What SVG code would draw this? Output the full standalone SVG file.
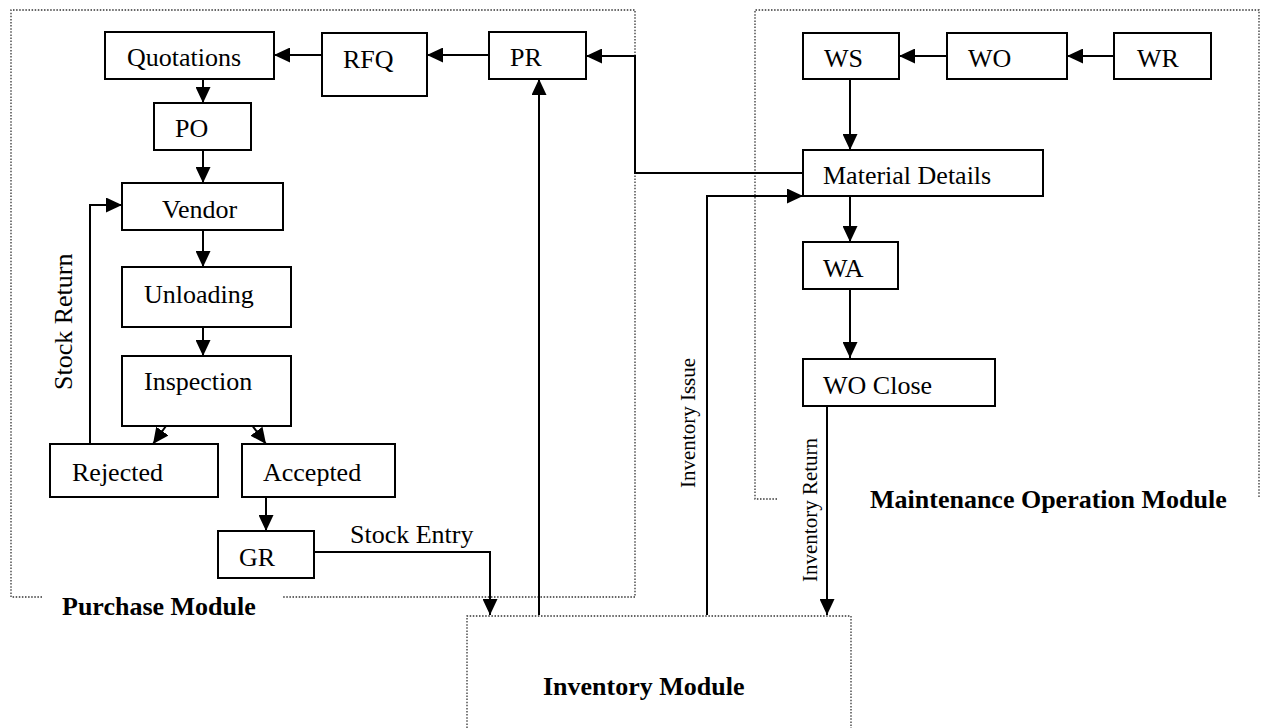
<svg xmlns="http://www.w3.org/2000/svg" width="1261" height="728" viewBox="0 0 1261 728">
<style>
.node rect{fill:#fff;stroke:#000;stroke-width:2}
text{font-family:"Liberation Serif","Times New Roman",serif;fill:#000}
.lbl{font-size:26px}
.mod{font-size:26px;font-weight:bold}
.sm{font-size:21px}
.conn path{fill:none;stroke:#000;stroke-width:2}
.border{fill:none;stroke:#333;stroke-width:1.3;stroke-dasharray:1.5 1.6}
</style>
<defs>
<marker id="ah" markerUnits="userSpaceOnUse" markerWidth="16" markerHeight="15" refX="16" refY="7.5" orient="auto">
<path d="M0,0 L16,7.5 L0,15 z" fill="#000"/>
</marker>
</defs>
<rect width="1261" height="728" fill="#fff"/>
<g id="modules">
<polyline class="border" points="42,597 11,597 11,10 635,10 635,597 283,597"/>
<polyline class="border" points="777,499 755,499 755,10 1259,10 1259,498"/>
<polyline class="border" points="467,728 467,616 851,616 851,728"/>
<text class="mod" x="62" y="615">Purchase Module</text>
<text class="mod" x="870" y="508">Maintenance Operation Module</text>
<text class="mod" x="543" y="695">Inventory Module</text>
</g>
<g id="connectors" class="conn">
<path d="M489,55 L427,55" marker-end="url(#ah)"/>
<path d="M322,55 L274,55" marker-end="url(#ah)"/>
<path d="M203,79 L203,103" marker-end="url(#ah)"/>
<path d="M203,150 L203,183" marker-end="url(#ah)"/>
<path d="M203,230 L203,267" marker-end="url(#ah)"/>
<path d="M203,313 L203,356" marker-end="url(#ah)"/>
<path d="M184,401 L153,444" marker-end="url(#ah)"/>
<path d="M234,401 L266,444" marker-end="url(#ah)"/>
<path d="M266,487 L266,531" marker-end="url(#ah)"/>
<path d="M90,444 L90,205 L122,205" marker-end="url(#ah)"/>
<path d="M314,552 L490,552 L490,615" marker-end="url(#ah)"/>
<path d="M539,615 L539,79" marker-end="url(#ah)"/>
<path d="M803,173 L635,173 L635,56 L586,56" marker-end="url(#ah)"/>
<path d="M707,615 L707,196 L803,196" marker-end="url(#ah)"/>
<path d="M1114,56 L1067,56" marker-end="url(#ah)"/>
<path d="M947,56 L899,56" marker-end="url(#ah)"/>
<path d="M850,79 L850,150" marker-end="url(#ah)"/>
<path d="M850,196 L850,242" marker-end="url(#ah)"/>
<path d="M850,289 L850,358" marker-end="url(#ah)"/>
<path d="M827,406 L827,615" marker-end="url(#ah)"/>
<text class="lbl" transform="translate(72,390) rotate(-90)">Stock Return</text>
<text class="lbl" x="350" y="543">Stock Entry</text>
<text class="sm" transform="translate(695,488) rotate(-90)">Inventory Issue</text>
<text class="sm" transform="translate(817,582) rotate(-90)">Inventory Return</text>
</g>
<g id="quotations" class="node"><rect x="105" y="32" width="169" height="47"/><text class="lbl" x="127" y="66">Quotations</text></g>
<g id="rfq" class="node"><rect x="322" y="33" width="105" height="63"/><text class="lbl" x="343" y="68">RFQ</text></g>
<g id="pr" class="node"><rect x="489" y="32" width="97" height="47"/><text class="lbl" x="510" y="66">PR</text></g>
<g id="po" class="node"><rect x="154" y="103" width="97" height="47"/><text class="lbl" x="175" y="137">PO</text></g>
<g id="vendor" class="node"><rect x="122" y="183" width="161" height="47"/><text class="lbl" x="162" y="218">Vendor</text></g>
<g id="unloading" class="node"><rect x="122" y="267" width="169" height="60"/><text class="lbl" x="144" y="303">Unloading</text></g>
<g id="inspection" class="node"><rect x="122" y="356" width="169" height="70"/><text class="lbl" x="144" y="390">Inspection</text></g>
<g id="rejected" class="node"><rect x="50" y="444" width="168" height="53"/><text class="lbl" x="72" y="481">Rejected</text></g>
<g id="accepted" class="node"><rect x="242" y="444" width="153" height="53"/><text class="lbl" x="263" y="481">Accepted</text></g>
<g id="gr" class="node"><rect x="218" y="531" width="96" height="47"/><text class="lbl" x="239" y="566">GR</text></g>
<g id="ws" class="node"><rect x="803" y="33" width="96" height="46"/><text class="lbl" x="824" y="67">WS</text></g>
<g id="wo" class="node"><rect x="947" y="33" width="120" height="46"/><text class="lbl" x="968" y="67">WO</text></g>
<g id="wr" class="node"><rect x="1114" y="33" width="97" height="46"/><text class="lbl" x="1137" y="67">WR</text></g>
<g id="material-details" class="node"><rect x="803" y="150" width="240" height="46"/><text class="lbl" x="823" y="184">Material Details</text></g>
<g id="wa" class="node"><rect x="803" y="242" width="95" height="47"/><text class="lbl" x="823" y="277">WA</text></g>
<g id="wo-close" class="node"><rect x="803" y="359" width="192" height="47"/><text class="lbl" x="823" y="394">WO Close</text></g>
</svg>
